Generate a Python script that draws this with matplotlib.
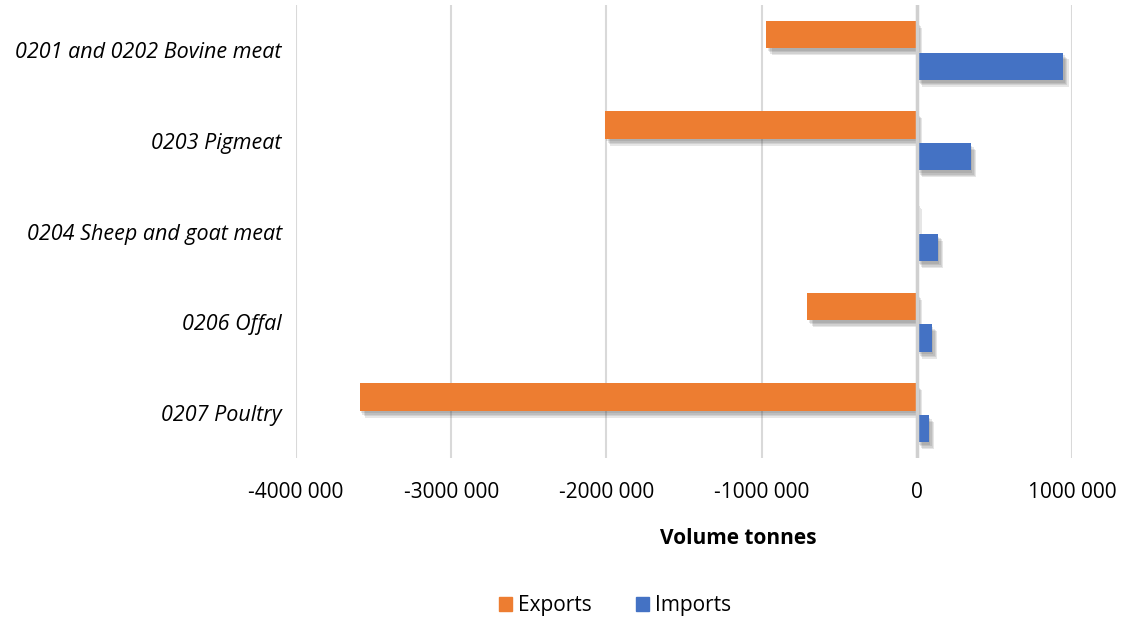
import matplotlib.pyplot as plt
import matplotlib.patheffects as pe
from matplotlib.patches import Patch
import numpy as np

# Meat trade volumes by product group (tonnes)
categories = ["0201 and 0202 Bovine meat", "0203 Pigmeat", "0204 Sheep and goat meat",
              "0206 Offal", "0207 Poultry"]
exports = [-970000, -2010000, -8000, -705000, -3590000]
imports = [942000, 348000, 135000, 97000, 77000]

xticks = [-4000000, -3000000, -2000000, -1000000, 0, 1000000]
xtick_labels = ["-4000 000", "-3000 000", "-2000 000", "-1000 000", "0", "1000 000"]

orange = "#ED7D31"
blue = "#4472C4"

plt.rcParams["font.family"] = ["Open Sans", "DejaVu Sans"]
fs = 15

fig = plt.figure(figsize=(11.25, 6.2), dpi=100)
ax = fig.add_axes([0.263, 0.261, 0.69, 0.731])

y = np.arange(len(categories))
h = 0.30
off = 0.175

# soft drop shadow built from a few offset layers
shadow = [pe.SimplePatchShadow(offset=(o, -o - 1), shadow_rgbFace="#444444", alpha=0.13)
          for o in (1, 2, 3, 4)] + [pe.Normal()]
b1 = ax.barh(y - off, exports, height=h, color=orange, zorder=3)
b2 = ax.barh(y + off, imports, height=h, color=blue, zorder=3)
for bar in list(b1) + list(b2):
    bar.set_path_effects(shadow)

ax.set_xlim(-4000000, 1000000)
ax.set_ylim(len(categories) - 0.5, -0.5)
ax.set_xticks(xticks)
ax.set_xticklabels(xtick_labels, fontsize=fs)
ax.set_yticks(y)
ax.set_yticklabels(categories, fontsize=15.5, style="italic")
ax.tick_params(length=0)
ax.tick_params(axis="x", pad=17)
ax.tick_params(axis="y", pad=10)

ax.grid(axis="x", color="#d9d9d9", linewidth=1.5, zorder=0)
ax.axvline(0, color="#d0d0d0", linewidth=2.5, zorder=4)
for s in ax.spines.values():
    s.set_visible(False)

fig.text(738 / 1125, 1 - 538 / 620, "Volume tonnes", ha="center", va="center",
         fontsize=fs, fontweight="bold")

handles = [Patch(color=orange), Patch(color=blue)]
fig.legend(handles=handles, labels=["Exports", "Imports"], loc="center",
           bbox_to_anchor=(615 / 1125, 1 - 606 / 620), ncol=2, frameon=False,
           fontsize=fs, handlelength=0.62, handleheight=0.62, columnspacing=2.1,
           handletextpad=0.3)

fig.savefig("out.png", dpi=100)
